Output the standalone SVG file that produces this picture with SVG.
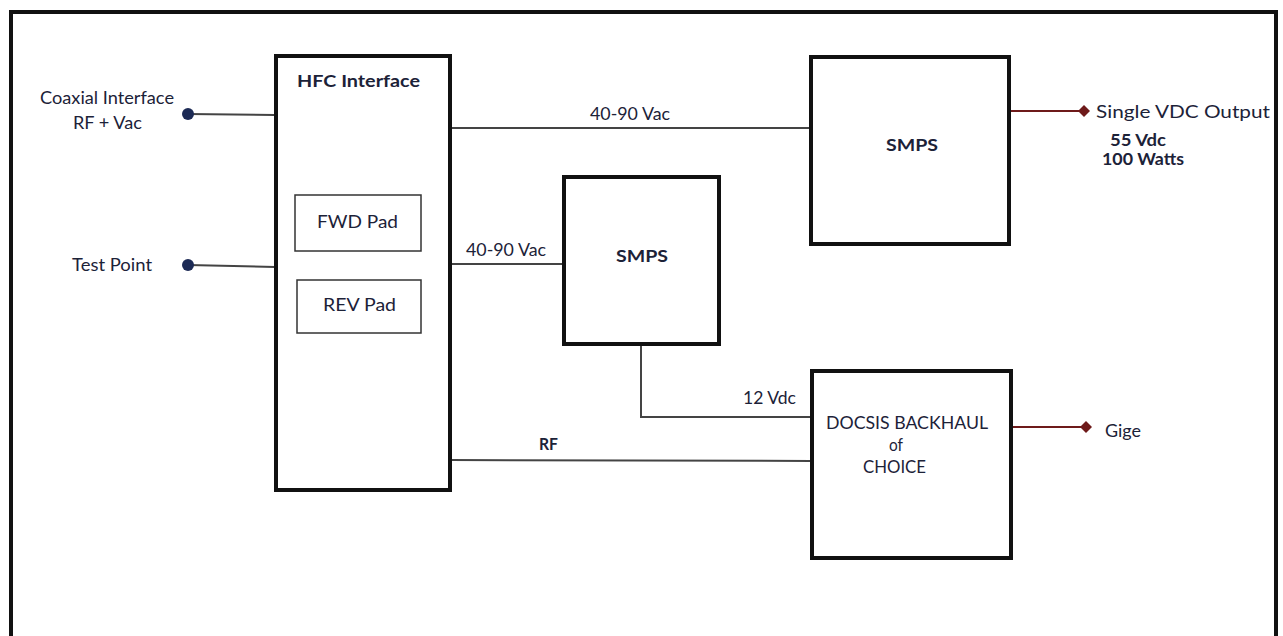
<svg xmlns="http://www.w3.org/2000/svg" width="1283" height="636" viewBox="0 0 1283 636">
<defs>
<style>
.box{fill:#fff;stroke:#111;stroke-width:4}
.pad{fill:#fff;stroke:#333;stroke-width:1.5}
.wire{fill:none;stroke:#444;stroke-width:2}
.red{fill:none;stroke:#6e1a1a;stroke-width:2}
.t{font-family:Lato,"Open Sans","Liberation Sans",sans-serif;font-size:17px;fill:#1c2238}
.b{font-weight:bold}
.m{text-anchor:middle}
</style>
<marker id="dia" viewBox="-6 -6 12 12" markerWidth="12" markerHeight="12" refX="0" refY="0" markerUnits="userSpaceOnUse" orient="auto">
<path d="M-6 0L0 -6L6 0L0 6Z" fill="#6e1a1a"/>
</marker>
</defs>
<rect width="1283" height="636" fill="#fff"/>
<path d="M11 640V12H1276V640" fill="none" stroke="#111" stroke-width="4"/>
<g id="connectors">
<line class="wire" x1="188" y1="114" x2="275" y2="115"/>
<circle cx="188" cy="114" r="6" fill="#1c2a55"/>
<line class="wire" x1="188" y1="265" x2="275" y2="267"/>
<circle cx="188" cy="265" r="6" fill="#1c2a55"/>
<line class="wire" x1="450" y1="128" x2="810" y2="128"/>
<line class="wire" x1="450" y1="264" x2="563" y2="264"/>
<polyline class="wire" points="641,344 641,417 811,417"/>
<line class="wire" x1="450" y1="460" x2="811" y2="461"/>
<line class="red" x1="1010" y1="111" x2="1084" y2="111" marker-end="url(#dia)"/>
<line class="red" x1="1012" y1="427" x2="1086" y2="427" marker-end="url(#dia)"/>
<text class="t" x="590" y="120" textLength="80" lengthAdjust="spacingAndGlyphs">40-90 Vac</text>
<text class="t" x="466" y="256" textLength="80" lengthAdjust="spacingAndGlyphs">40-90 Vac</text>
<text class="t" x="743" y="404" textLength="53" lengthAdjust="spacingAndGlyphs">12 Vdc</text>
<text class="t b" x="539" y="450" font-size="16" textLength="19" lengthAdjust="spacingAndGlyphs">RF</text>
</g>
<g id="coax">
<text class="t" x="40" y="104" textLength="134" lengthAdjust="spacingAndGlyphs">Coaxial Interface</text>
<text class="t" x="73" y="129" textLength="69" lengthAdjust="spacingAndGlyphs">RF + Vac</text>
</g>
<g id="testpoint">
<text class="t" x="72" y="271" textLength="80" lengthAdjust="spacingAndGlyphs">Test Point</text>
</g>
<g id="hfc">
<rect class="box" x="276" y="56" width="174" height="434" stroke-width="3.5"/>
<text class="t b" x="297" y="87" textLength="123" lengthAdjust="spacingAndGlyphs">HFC Interface</text>
</g>
<g id="fwd">
<rect class="pad" x="295" y="195" width="126" height="56"/>
<text class="t" x="317" y="228" font-size="18" textLength="81" lengthAdjust="spacingAndGlyphs">FWD Pad</text>
</g>
<g id="rev">
<rect class="pad" x="297" y="280" width="124" height="53"/>
<text class="t" x="323" y="311" font-size="18" textLength="73" lengthAdjust="spacingAndGlyphs">REV Pad</text>
</g>
<g id="smps1">
<rect class="box" x="811" y="57" width="198" height="187"/>
<text class="t b" x="886" y="151" textLength="52" lengthAdjust="spacingAndGlyphs">SMPS</text>
</g>
<g id="smps2">
<rect class="box" x="564" y="177" width="155" height="167"/>
<text class="t b" x="616" y="262" textLength="52" lengthAdjust="spacingAndGlyphs">SMPS</text>
</g>
<g id="docsis">
<rect class="box" x="812" y="371" width="199" height="187"/>
<text class="t" x="826" y="429" textLength="162" lengthAdjust="spacingAndGlyphs">DOCSIS BACKHAUL</text>
<text class="t" x="889" y="451" textLength="14" lengthAdjust="spacingAndGlyphs">of</text>
<text class="t" x="863" y="473" textLength="63" lengthAdjust="spacingAndGlyphs">CHOICE</text>
</g>
<g id="vdcout">
<text class="t" x="1096" y="118" font-size="18" textLength="174" lengthAdjust="spacingAndGlyphs">Single VDC  Output</text>
<text class="t b" x="1110" y="146" font-size="14" textLength="56" lengthAdjust="spacingAndGlyphs">55 Vdc</text>
<text class="t b" x="1102" y="165" font-size="14" textLength="82" lengthAdjust="spacingAndGlyphs">100 Watts</text>
</g>
<g id="gige">
<text class="t" x="1105" y="437" textLength="36" lengthAdjust="spacingAndGlyphs">Gige</text>
</g>
</svg>
